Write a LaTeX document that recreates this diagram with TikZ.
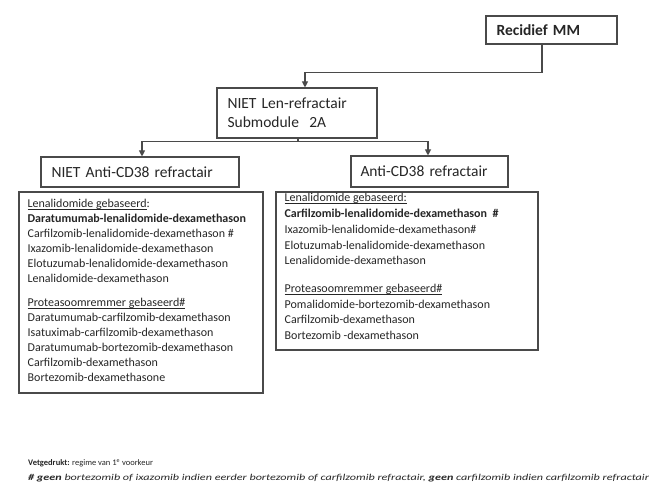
\documentclass[tikz,border=0pt]{standalone}
\usepackage{fontspec}
\setmainfont{Carlito}
\usetikzlibrary{arrows.meta,calc}
\definecolor{ln}{HTML}{4A4A4A}
\definecolor{tx}{HTML}{262626}
\newcommand\myul[1]{\setbox0\hbox{#1}\rlap{\rule[-1.9pt]{\wd0}{0.5pt}}\box0}
\tikzset{
  box/.style={draw=ln, line width=1.1pt, rectangle, inner sep=0pt, text=tx},
  titlebox/.style={box, font=\fontsize{15.5}{19}\selectfont, align=left, inner xsep=10pt},
  listtext/.style={anchor=north west, inner sep=0pt, text=tx, align=left, font=\fontsize{12}{15}\selectfont},
  arr/.style={draw=ln, line width=1.1pt, -{Triangle[length=6pt,width=6pt]}},
  plain/.style={draw=ln, line width=1.1pt}
}
\begin{document}
\begin{tikzpicture}[x=1pt,y=-1pt]
\useasboundingbox[fill=white] (0,0) rectangle (654,486);

\node[titlebox, minimum width=131pt, minimum height=28pt, text width=110pt, font=\fontsize{15.5}{19}\selectfont\bfseries] (rec) at (551.5,30) {Recidief MM};
\node[titlebox, minimum width=160pt, minimum height=50pt, text width=139pt] (len) at (297,113) {NIET Len-refractair\\Submodule\ \ 2A};
\node[titlebox, minimum width=198pt, minimum height=30pt, text width=177pt] (nac) at (140,172) {NIET Anti-CD38 refractair};
\node[titlebox, minimum width=157pt, minimum height=31pt, text width=138pt, inner xsep=9pt] (ac) at (429.5,171.5) {Anti-CD38 refractair};

\node[box, minimum width=244pt, minimum height=201pt] (lbox) at (141,292.5) {};
\node[box, minimum width=262pt, minimum height=158pt] (rbox) at (407,271) {};

\node[listtext] (ltext) at ([xshift=9pt,yshift=-8pt]lbox.north west) {%
\myul{Lenalidomide gebaseerd}:\\
\textbf{Daratumumab-lenalidomide-dexamethason}\\
Carfilzomib-lenalidomide-dexamethason \#\\
Ixazomib-lenalidomide-dexamethason\\
Elotuzumab-lenalidomide-dexamethason\\
Lenalidomide-dexamethason\\[9pt]
\myul{Proteasoomremmer gebaseerd\#}\\
Daratumumab-carfilzomib-dexamethason\\
Isatuximab-carfilzomib-dexamethason\\
Daratumumab-bortezomib-dexamethason\\
Carfilzomib-dexamethason\\
Bortezomib-dexamethasone};

\node[listtext, font=\fontsize{12}{15.7}\selectfont] (rtext) at ([xshift=9pt,yshift=-2pt]rbox.north west) {%
\myul{Lenalidomide gebaseerd:}\\
\textbf{Carfilzomib-lenalidomide-dexamethason\ \ \#}\\
Ixazomib-lenalidomide-dexamethason\#\\
Elotuzumab-lenalidomide-dexamethason\\
Lenalidomide-dexamethason\\[12pt]
\myul{Proteasoomremmer gebaseerd\#}\\
Pomalidomide-bortezomib-dexamethason\\
Carfilzomib-dexamethason\\
Bortezomib -dexamethason};

\draw[arr] ([xshift=-9.5pt]rec.south) -- ++(0,28) -| ([xshift=8pt]len.north);
\draw[arr] ([xshift=1pt]len.south) -- ++(0,3) -| ([xshift=2pt]nac.north);
\draw[arr] ([xshift=1pt]len.south) -- ++(0,3) -| ([xshift=-1.5pt]ac.north);

\node[anchor=west, inner sep=0pt, text=tx, font=\fontsize{8.5}{11}\selectfont] (fn1) at (28,463) {\textbf{Vetgedrukt:} regime van 1\textsuperscript{e} voorkeur};
\node[anchor=west, inner sep=0pt, text=tx, font=\fontsize{9}{11}\selectfont\itshape] (fn2) at (28,478) {\scalebox{1.35}[1]{\textbf{\# geen} bortezomib of ixazomib indien eerder bortezomib of carfilzomib refractair, \textbf{geen} carfilzomib indien carfilzomib refractair}};
\end{tikzpicture}
\end{document}
